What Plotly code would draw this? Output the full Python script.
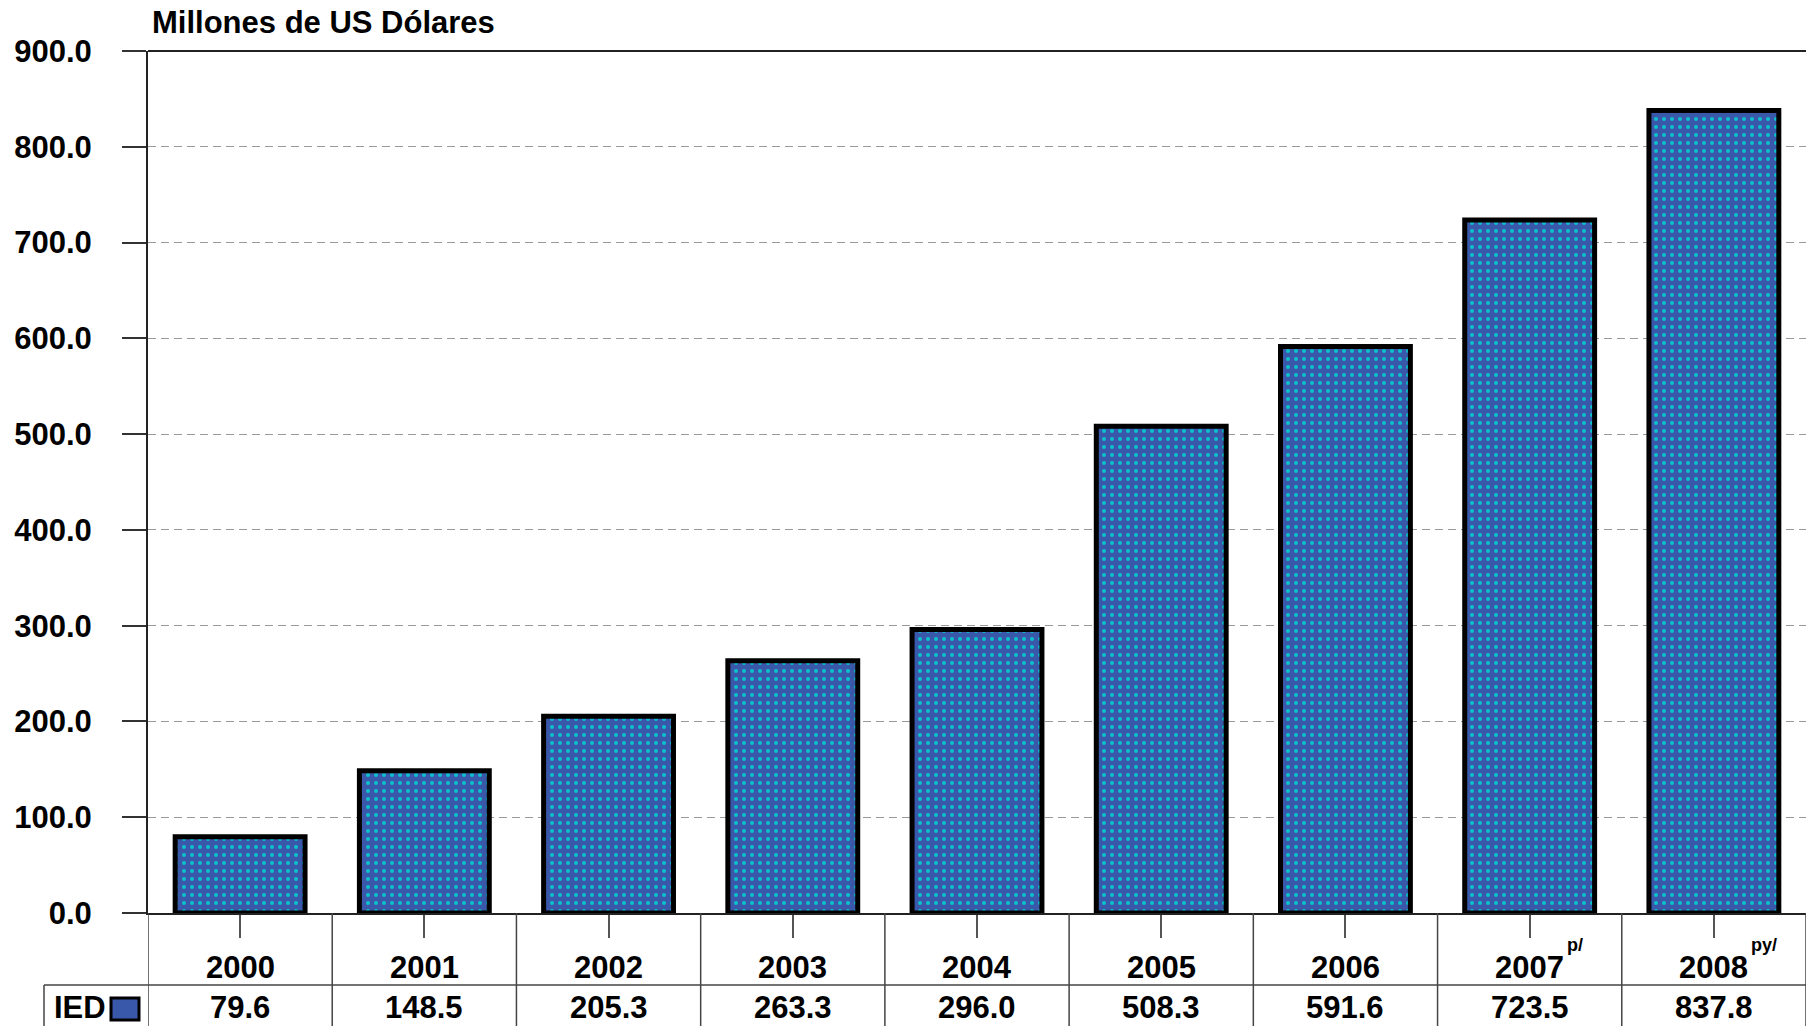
import plotly.graph_objects as go

# Inversión Extranjera Directa (IED), millones de US dólares
years = ["2000", "2001", "2002", "2003", "2004", "2005", "2006", "2007", "2008"]
year_notes = ["", "", "", "", "", "", "", "p/", "py/"]
ied = [79.6, 148.5, 205.3, 263.3, 296.0, 508.3, 591.6, 723.5, 837.8]
y_ticks = [0, 100, 200, 300, 400, 500, 600, 700, 800, 900]

W, H = 1806, 1026
L, R, T, B = 148, 1806, 51, 913          # plot area in pixels
FONT = "Liberation Sans, Arial, sans-serif"
BLUE, CYAN = "#3A58AA", "#0CC0CC"


def px(x):
    return (x - L) / (R - L)


def py(y):
    return (B - y) / (B - T)


fig = go.Figure()
fig.add_trace(go.Bar(
    x=list(range(len(years))), y=ied, width=0.705,
    marker=dict(
        color=BLUE,
        line=dict(color="black", width=5),
        pattern=dict(shape=".", fgcolor=CYAN, bgcolor=BLUE,
                     size=8, solidity=0.2, fillmode="replace"),
    ),
    customdata=years, hovertemplate="%{customdata}: %{y:.1f}<extra></extra>",
    showlegend=False,
))

shapes = []
# top border of the plot
shapes.append(dict(type="line", xref="paper", yref="paper", x0=0, x1=1, y0=1, y1=1,
                   line=dict(color="#222", width=2)))
# data table below the plot: column separators
n = len(years)
for i in range(n + 1):
    shapes.append(dict(type="line", xref="x", yref="paper", x0=i - 0.5, x1=i - 0.5,
                       y0=0, y1=py(H + 5), line=dict(color="#444", width=1.5)))
# row separator and the row-header cell
shapes.append(dict(type="line", xref="paper", yref="paper", x0=px(44), x1=1,
                   y0=py(985), y1=py(985), line=dict(color="#444", width=1.5)))
shapes.append(dict(type="line", xref="paper", yref="paper", x0=px(44), x1=px(44),
                   y0=py(985), y1=py(H + 5), line=dict(color="#444", width=1.5)))
# legend key next to "IED"
shapes.append(dict(type="rect", xref="paper", yref="paper", x0=px(111), x1=px(139),
                   y0=py(1020), y1=py(998), fillcolor=BLUE,
                   line=dict(color="black", width=3)))

annotations = []
annotations.append(dict(text="<b>Millones de US Dólares</b>", xref="paper", yref="paper",
                        x=px(150), y=py(22), xanchor="left", yanchor="middle",
                        showarrow=False, font=dict(family=FONT, size=31, color="black")))
for i, (yr, note, v) in enumerate(zip(years, year_notes, ied)):
    annotations.append(dict(text=f"<b>{yr}</b>", xref="x", yref="paper", x=i, y=py(967),
                            xanchor="center", yanchor="middle", showarrow=False,
                            font=dict(family=FONT, size=31, color="black")))
    if note:
        annotations.append(dict(text=f"<b>{note}</b>", xref="x", yref="paper", x=i,
                                y=py(945), xanchor="left", yanchor="middle", xshift=35,
                                showarrow=False,
                                font=dict(family=FONT, size=18, color="black")))
    annotations.append(dict(text=f"<b>{v:.1f}</b>", xref="x", yref="paper", x=i, y=py(1008),
                            xanchor="center", yanchor="middle", showarrow=False,
                            font=dict(family=FONT, size=31, color="black")))
annotations.append(dict(text="<b>IED</b>", xref="paper", yref="paper", x=px(52), y=py(1008),
                        xanchor="left", yanchor="middle", showarrow=False,
                        font=dict(family=FONT, size=31, color="black")))

fig.update_layout(
    width=W, height=H,
    margin=dict(l=L, r=W - R, t=T, b=H - B, pad=0),
    paper_bgcolor="white", plot_bgcolor="white",
    shapes=shapes, annotations=annotations,
    xaxis=dict(
        range=[-0.5, n - 0.5], tickvals=list(range(n)), showticklabels=False,
        ticks="outside", ticklen=23, tickwidth=1.5, tickcolor="#555",
        showline=True, linecolor="#222", linewidth=2, showgrid=False, zeroline=False,
    ),
    yaxis=dict(
        range=[0, 900], tickvals=y_ticks, tickformat=".1f",
        ticks="outside", ticklen=24, tickwidth=1.5, tickcolor="#333",
        ticklabelstandoff=24,
        tickfont=dict(family=FONT, size=31, color="black", weight="bold"),
        showline=True, linecolor="#222", linewidth=2,
        showgrid=True, gridcolor="#9a9a9a", gridwidth=1, griddash="8px,5px",
        zeroline=False,
    ),
)

fig.write_html("out.html")
